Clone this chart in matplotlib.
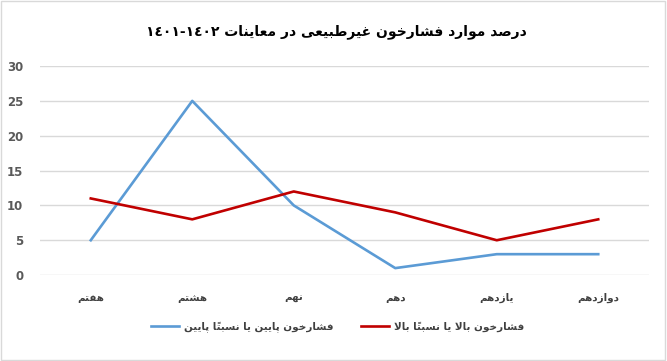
import matplotlib
matplotlib.use("Agg")
import matplotlib.pyplot as plt
from matplotlib.patches import Rectangle

# داده‌ها
categories = ["هفتم", "هشتم", "نهم", "دهم", "یازدهم", "دوازدهم"]
low_bp = [5, 25, 10, 1, 3, 3]
high_bp = [11, 8, 12, 9, 5, 8]
low_label = "فشارخون پایین یا نسبتاً پایین"
high_label = "فشارخون بالا یا نسبتاً بالا"
title_text = "درصد موارد فشارخون غیرطبیعی در معاینات"
title_years = "\u0661\u0664\u0660\u0661-\u0661\u0664\u0660\u0662"
y_ticks = [0, 5, 10, 15, 20, 25, 30]

# شکل‌دهی ساده حروف فارسی (matplotlib خودش این کار را نمی‌کند)
FORMS = {
    "ا": ("\uFE8D", "\uFE8E"),
    "ب": ("\uFE8F", "\uFE90", "\uFE91", "\uFE92"),
    "پ": ("\uFB56", "\uFB57", "\uFB58", "\uFB59"),
    "ت": ("\uFE95", "\uFE96", "\uFE97", "\uFE98"),
    "خ": ("\uFEA5", "\uFEA6", "\uFEA7", "\uFEA8"),
    "د": ("\uFEA9", "\uFEAA"),
    "ر": ("\uFEAD", "\uFEAE"),
    "ز": ("\uFEAF", "\uFEB0"),
    "س": ("\uFEB1", "\uFEB2", "\uFEB3", "\uFEB4"),
    "ش": ("\uFEB5", "\uFEB6", "\uFEB7", "\uFEB8"),
    "ص": ("\uFEB9", "\uFEBA", "\uFEBB", "\uFEBC"),
    "ط": ("\uFEC1", "\uFEC2", "\uFEC3", "\uFEC4"),
    "ع": ("\uFEC9", "\uFECA", "\uFECB", "\uFECC"),
    "غ": ("\uFECD", "\uFECE", "\uFECF", "\uFED0"),
    "ف": ("\uFED1", "\uFED2", "\uFED3", "\uFED4"),
    "ل": ("\uFEDD", "\uFEDE", "\uFEDF", "\uFEE0"),
    "م": ("\uFEE1", "\uFEE2", "\uFEE3", "\uFEE4"),
    "ن": ("\uFEE5", "\uFEE6", "\uFEE7", "\uFEE8"),
    "ه": ("\uFEE9", "\uFEEA", "\uFEEB", "\uFEEC"),
    "و": ("\uFEED", "\uFEEE"),
    "ی": ("\uFEEF", "\uFEF0", "\uFEF3", "\uFEF4"),
    "لا": ("\uFEFB", "\uFEFC"),
}
MARKS = "\u064B\u064E\u064F\u0650\u0651\u0652"


def fa(text):
    tokens = []
    i = 0
    while i < len(text):
        ch = text[i]
        if ch in MARKS and tokens:
            tokens[-1][1] += ch
        elif ch == "ل" and i + 1 < len(text) and text[i + 1] == "ا":
            tokens.append(["لا", ""])
            i += 1
        else:
            tokens.append([ch, ""])
        i += 1
    out = []
    n = len(tokens)
    for k, (b, m) in enumerate(tokens):
        if b in FORMS:
            f = FORMS[b]
            prev = k > 0 and tokens[k - 1][0] in FORMS and len(FORMS[tokens[k - 1][0]]) == 4
            nxt = k < n - 1 and tokens[k + 1][0] in FORMS and len(f) == 4
            if prev and nxt:
                g = f[3]
            elif prev:
                g = f[1]
            elif nxt:
                g = f[2]
            else:
                g = f[0]
            out.append(g + m)
        else:
            out.append(b + m)
    return "".join(reversed(out))


plt.rcParams["font.family"] = ["DejaVu Sans"]

fig = plt.figure(figsize=(6.67, 3.61), dpi=100)
ax = fig.add_axes([0.06, 0.238, 0.913, 0.579])

x = list(range(len(categories)))
ax.plot(x, low_bp, color="#5B9BD5", linewidth=1.9, label=fa(low_label))
ax.plot(x, high_bp, color="#C00000", linewidth=1.9, label=fa(high_label))

ax.set_xlim(-0.5, len(categories) - 0.5)
ax.set_ylim(0, 30)
ax.set_yticks(y_ticks)
ax.set_xticks(x)
ax.set_xticklabels([fa(c) for c in categories])
ax.tick_params(axis="y", length=0, pad=12, labelsize=8.5, labelcolor="#595959")
ax.tick_params(axis="x", length=0, pad=13, labelsize=7.5, labelcolor="#404040")
for lab in ax.get_yticklabels() + ax.get_xticklabels():
    lab.set_fontweight("bold")
ax.grid(axis="y", color="#D9D9D9", linewidth=1.0)
ax.set_axisbelow(True)
for s in ax.spines.values():
    s.set_visible(False)

fig.text(0.505, 0.913, title_years + " " + fa(title_text), ha="center", va="center",
         fontsize=10, fontweight="bold", color="#000000")

leg = fig.legend(loc="center", bbox_to_anchor=(0.506, 0.094), ncol=2, frameon=False,
                 handlelength=2.7, handletextpad=0.5, columnspacing=2.6,
                 prop={"size": 7.5, "weight": "bold"})
for t in leg.get_texts():
    t.set_color("#404040")

fig.patches.append(Rectangle((0.002, 0.003), 0.995, 0.993, transform=fig.transFigure,
                             fill=False, edgecolor="#D9D9D9", linewidth=1.0))

fig.savefig("out.png", dpi=100)
